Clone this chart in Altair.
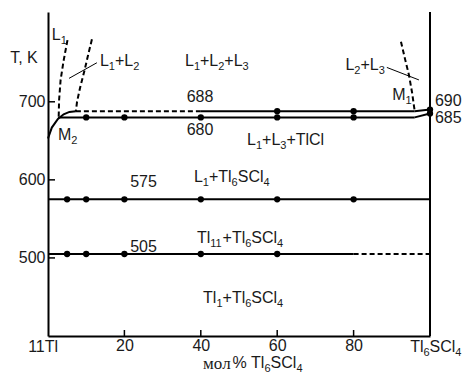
import re
import altair as alt
import pandas as pd

# Phase diagram of the Tl - Tl6SCl4 section: composition in mol% Tl6SCl4, temperature in K
x_ticks = [0, 20, 40, 60, 80, 100]
y_ticks = [500, 600, 700]

# invariant temperatures, K
t_monotectic = 688
t_m1 = 690
t_eutectic = 680
t_tl6scl4 = 685
t_peritectic = 575
t_solid = 505

# composition of M1 / M2 and the start of the miscibility-gap boundary
x_m1 = 96.0
x_m2 = 2.6
x_gap = 7.3
x_dash_end = 40
x_solid_dash = 80

# experimental points on each isotherm (mol% Tl6SCl4)
pts_688 = [60, 80]
pts_680 = [10, 20, 40, 60, 80]
pts_575 = [5, 10, 20, 40, 60, 80]
pts_505 = [5, 10, 20, 40, 60]

# boundary curves
liq_x = [0, 1.0, 2.6, 4.1, 5.6, 7.3]
liq_t = [653, 667, 678, 684, 687, 688]
l1_x = [5.1, 4.1, 3.3, 2.9, 2.8]
l1_t = [779, 753, 728, 702, 681]
l12_x = [11.5, 10.5, 9.6, 8.4, 7.6, 7.3]
l12_t = [780, 760, 741, 718, 700, 688]
m1_x = [92.4, 93.5, 94.5, 95.3, 96.0]
m1_t = [777, 754, 734, 712, 688]

# text labels: markup ("_n" = subscript), anchor composition, baseline temperature, alignment
labels = [
    ("L_1", 1.0, 779, "left"),
    ("L_1+L_2", 13.6, 746, "left"),
    ("L_1+L_2+L_3", 44.2, 746, "center"),
    ("L_2+L_3", 83.0, 741, "center"),
    ("M_1", 90.1, 702, "left"),
    ("M_2", 2.6, 651, "left"),
    (str(t_monotectic), 39.8, 700, "center"),
    (str(t_eutectic), 39.8, 657, "center"),
    (str(t_m1), 101.3, 695, "left"),
    (str(t_tl6scl4), 101.3, 673, "left"),
    ("L_1+L_3+TlCl", 52.1, 645, "left"),
    (str(t_peritectic), 21.5, 591, "left"),
    ("L_1+Tl_6SCl_4", 38.2, 597, "left"),
    (str(t_solid), 21.5, 508, "left"),
    ("Tl_11+Tl_6SCl_4", 39.0, 519, "left"),
    ("Tl_1+Tl_6SCl_4", 40.6, 442, "left"),
    ("11Tl", -5.2, 379, "left"),
    ("Tl_6SCl_4", 94.8, 379, "left"),
    ("T, K", -9.9, 750, "left"),
    ("% Tl_6SCl_4", 48.3, 359.5, "left"),
]
serif_labels = [("мол", 40.6, 358)]

W, H = 382, 324
FONT = "Liberation Sans"
FS, FS_SUB = 16, 11
INK = "#1a1a1a"
X_DOM = [0, 100]
Y_DOM = [400, 815]
PX_PER_X = W / (X_DOM[1] - X_DOM[0])

# Arial / Liberation Sans advance widths (1/1000 em) for laying out subscripted labels
ADV = {"L": 556, "T": 611, "l": 222, "S": 667, "C": 722, "+": 584, "M": 833,
       "%": 889, " ": 278, ",": 278, "K": 667}
ADV.update({d: 556 for d in "0123456789"})


def text_runs(markup):
    runs = []
    for part in re.split(r"(_\d+)", markup):
        if not part:
            continue
        if part.startswith("_"):
            runs.append((part[1:], True))
        else:
            runs.append((part, False))
    return runs


def run_width(s, sub):
    return sum(ADV.get(c, 556) for c in s) / 1000 * (FS_SUB if sub else FS)


rows = []
for markup, x0, t0, align in labels:
    runs = text_runs(markup)
    total = sum(run_width(s, sub) for s, sub in runs)
    off = -total / 2 if align == "center" else 0.0
    for s, sub in runs:
        rows.append({"x": x0 + off / PX_PER_X, "t": t0, "s": s,
                     "kind": "sub" if sub else "main"})
        off += run_width(s, sub)
for s, x0, t0 in serif_labels:
    rows.append({"x": x0, "t": t0, "s": s, "kind": "serif"})
text_df = pd.DataFrame(rows)

xs = alt.Scale(domain=X_DOM, nice=False, zero=False)
ys = alt.Scale(domain=Y_DOM, nice=False, zero=False)

num_expr = "datum.value == 0 || datum.value == 100 ? '' : datum.label"
x_axis = alt.Axis(
    values=x_ticks, labelExpr=num_expr, ticks=False, grid=False, labelFlush=False,
    domainColor="black", domainWidth=2, labelFont=FONT, labelFontSize=FS,
    labelColor=INK, labelPadding=1, title=None)
y_axis = alt.Axis(
    values=y_ticks, ticks=False, grid=False, domainColor="black",
    domainWidth=2, labelFont=FONT, labelFontSize=FS, labelColor=INK,
    labelPadding=3, title=None)

X = alt.X("x:Q", scale=xs, axis=x_axis)
Y = alt.Y("t:Q", scale=ys, axis=y_axis)

# horizontal isotherms and connecting segments
segments = pd.DataFrame([
    {"x": x_gap, "x2": x_dash_end, "t": t_monotectic, "t2": t_monotectic, "dash": True},
    {"x": x_dash_end, "x2": x_m1, "t": t_monotectic, "t2": t_monotectic, "dash": False},
    {"x": x_m1, "x2": 100, "t": t_monotectic, "t2": t_m1, "dash": False},
    {"x": x_m2, "x2": x_m1, "t": t_eutectic, "t2": t_eutectic, "dash": False},
    {"x": x_m1, "x2": 100, "t": t_eutectic, "t2": t_tl6scl4, "dash": False},
    {"x": 0, "x2": 100, "t": t_peritectic, "t2": t_peritectic, "dash": False},
    {"x": 0, "x2": x_solid_dash, "t": t_solid, "t2": t_solid, "dash": False},
    {"x": x_solid_dash, "x2": 100, "t": t_solid, "t2": t_solid, "dash": True},
    {"x": 100, "x2": 100, "t": Y_DOM[0], "t2": Y_DOM[1], "dash": False},
])

seg_enc = dict(x=X, x2="x2:Q", y=Y, y2="t2:Q")
solid_rules = alt.Chart(segments).transform_filter("!datum.dash").mark_rule(
    color="black", strokeWidth=2).encode(**seg_enc)
dashed_rules = alt.Chart(segments).transform_filter("datum.dash").mark_rule(
    color="black", strokeWidth=2, strokeDash=[5, 3]).encode(**seg_enc)


# curved phase boundaries
def curve(name, xv, tv):
    return pd.DataFrame({"curve": name, "x": xv, "t": tv, "i": range(len(xv))})


liq_df = curve("liq", liq_x, liq_t)
dashed_curves = pd.concat([
    curve("L1", l1_x, l1_t),
    curve("L12", l12_x, l12_t),
    curve("M1", m1_x, m1_t),
])
line_enc = dict(x=X, y=Y, order="i:Q", detail="curve:N")
liq_line = alt.Chart(liq_df).mark_line(color="black", strokeWidth=2).encode(**line_enc)
gap_lines = alt.Chart(dashed_curves).mark_line(
    color="black", strokeWidth=2, strokeDash=[5, 3]).encode(**line_enc)

# leader lines from field labels
leaders = pd.DataFrame([
    {"x": 5.5, "x2": 12.8, "t": 730, "t2": 750},
    {"x": 88.7, "x2": 97.1, "t": 744, "t2": 728},
])
leader_rules = alt.Chart(leaders).mark_rule(color="black", strokeWidth=1).encode(**seg_enc)

# experimental points
points = pd.DataFrame(
    [{"x": v, "t": t_monotectic} for v in pts_688]
    + [{"x": 100, "t": t_m1}]
    + [{"x": v, "t": t_eutectic} for v in pts_680]
    + [{"x": 100, "t": t_tl6scl4}]
    + [{"x": v, "t": t_peritectic} for v in pts_575]
    + [{"x": v, "t": t_solid} for v in pts_505]
)
dots = alt.Chart(points).mark_circle(color="black", size=40, opacity=1).encode(x=X, y=Y)

# labels: normal runs, subscripts and the serif word of the axis title
txt_enc = dict(x=X, y=Y, text="s:N")
text_main = alt.Chart(text_df).transform_filter("datum.kind == 'main'").mark_text(
    font=FONT, fontSize=FS, color=INK, align="left", baseline="alphabetic").encode(**txt_enc)
text_sub = alt.Chart(text_df).transform_filter("datum.kind == 'sub'").mark_text(
    font=FONT, fontSize=FS_SUB, color=INK, align="left", baseline="alphabetic",
    dy=4).encode(**txt_enc)
text_serif = alt.Chart(text_df).transform_filter("datum.kind == 'serif'").mark_text(
    font="Liberation Serif", fontSize=17, color=INK, align="left",
    baseline="alphabetic").encode(**txt_enc)

# inward ticks drawn as short rules
x_tick_marks = alt.Chart(pd.DataFrame({"x": x_ticks[1:-1]})).mark_rule(
    color="black", strokeWidth=1.5).encode(x=X, y=alt.value(H), y2=alt.value(H - 6))
y_tick_marks = alt.Chart(pd.DataFrame({"t": y_ticks})).mark_rule(
    color="black", strokeWidth=1.5).encode(y=Y, x=alt.value(0), x2=alt.value(7))

chart = alt.layer(
    solid_rules, dashed_rules, liq_line, gap_lines, leader_rules, dots,
    x_tick_marks, y_tick_marks, text_main, text_sub, text_serif,
).properties(
    width=W, height=H,
    padding={"left": 48, "top": 12, "right": 33, "bottom": 38},
    autosize=alt.AutoSizeParams(type="none"),
    background="white",
).configure_view(stroke=None)

chart.save("out.html", embed_options={"renderer": "svg", "actions": False})
